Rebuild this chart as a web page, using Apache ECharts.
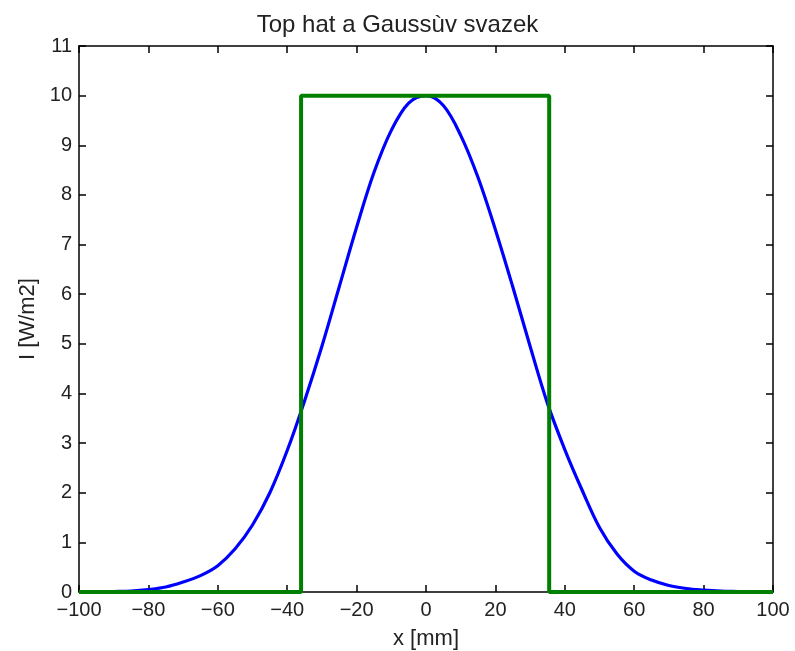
<!DOCTYPE html>
<html>
<head>
<meta charset="utf-8">
<script src="https://cdn.jsdelivr.net/npm/echarts@6/dist/echarts.min.js"></script>
<style>
html,body{margin:0;padding:0;background:#fff;}
#c{width:795px;height:651px;}
</style>
</head>
<body>
<div id="c"></div>
<script>
// Gaussian beam profile
const gaussX = [-100,-95,-90,-85,-80,-75,-70,-65,-60,-55,-50,-45,-40,-35,-30,-25,-20,-15,-10,-5,0,5,10,15,20,25,30,35,40,45,50,55,60,65,70,75,80,85,90,95,100];
const gaussY = [0,0,0.01,0.02,0.05,0.1,0.2,0.33,0.53,0.87,1.35,2.0,2.85,3.85,4.95,6.15,7.35,8.45,9.3,9.85,10,9.8,9.2,8.35,7.3,6.15,4.95,3.8,2.87,2.05,1.3,0.77,0.42,0.24,0.13,0.07,0.04,0.02,0.01,0,0];
// Top hat profile
const hatX = [-100,-36,-36,35.5,35.5,100];
const hatY = [0,0,10,10,0,0];
const xTicks = [-100,-80,-60,-40,-20,0,20,40,60,80,100];
const yTicks = [0,1,2,3,4,5,6,7,8,9,10,11];

const font = 'Liberation Sans, Arial, sans-serif';
const chart = echarts.init(document.getElementById('c'), null, {renderer:'canvas'});
const axisLineStyle = {color:'#000', width:1.5};
const tick = {show:true, inside:true, length:7, lineStyle:{color:'#000', width:1.5}};
chart.setOption({
  animation:false,
  backgroundColor:'#fff',
  title:{text:'Top hat a Gaussùv svazek', left:'center', top:8,
    textStyle:{fontFamily:font, fontSize:24, fontWeight:'normal', color:'#222'}},
  grid:{left:79, right:22, top:46, bottom:59, outerBoundsMode:'none', containLabel:false},
  xAxis:[{
    type:'value', min:-100, max:100, interval:20,
    name:'x [mm]', nameLocation:'middle', nameGap:36,
    nameTextStyle:{fontFamily:font, fontSize:22, color:'#222'},
    axisLine:{show:true, onZero:false, lineStyle:axisLineStyle},
    axisTick:tick, splitLine:{show:false},
    axisLabel:{fontFamily:font, fontSize:20, color:'#222', margin:8,
      formatter:v=>xTicks.includes(v)?String(v).replace('-','\u2212'):''}
  },{
    type:'value', position:'top', min:-100, max:100, interval:20,
    axisLine:{show:true, onZero:false, lineStyle:axisLineStyle},
    axisTick:tick, axisLabel:{show:false}, splitLine:{show:false}
  }],
  yAxis:[{
    type:'value', min:0, max:11, interval:1,
    name:'I [W/m2]', nameLocation:'middle', nameGap:40,
    nameTextStyle:{fontFamily:font, fontSize:22, color:'#222'},
    axisLine:{show:true, onZero:false, lineStyle:axisLineStyle},
    axisTick:tick, splitLine:{show:false},
    axisLabel:{fontFamily:font, fontSize:20, color:'#222', margin:7,
      formatter:v=>yTicks.includes(v)?String(v):''}
  },{
    type:'value', position:'right', min:0, max:11, interval:1,
    axisLine:{show:true, onZero:false, lineStyle:axisLineStyle},
    axisTick:tick, axisLabel:{show:false}, splitLine:{show:false}
  }],
  series:[{
    type:'line', name:'Gauss', showSymbol:false, smooth:0.35,
    data:gaussX.map((x,i)=>[x,gaussY[i]]),
    lineStyle:{color:'#0000ff', width:3.2}, z:2
  },{
    type:'line', name:'Top hat', showSymbol:false,
    data:hatX.map((x,i)=>[x,hatY[i]]),
    lineStyle:{color:'#008000', width:4}, z:3
  }]
});
</script>
</body>
</html>
